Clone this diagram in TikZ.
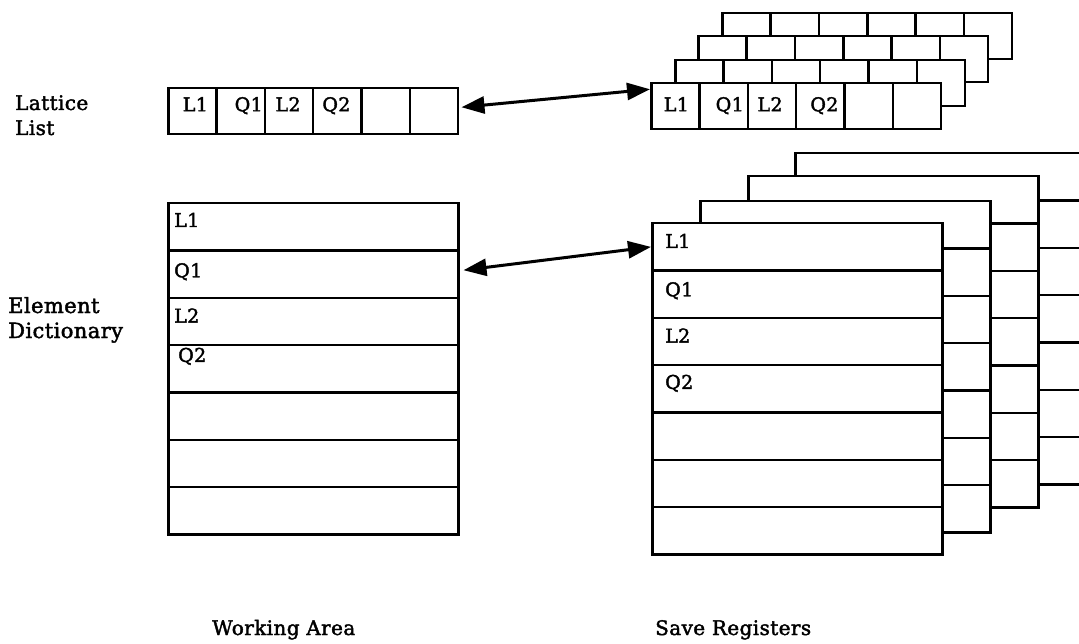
\documentclass[tikz,border=0pt]{standalone}
\usepackage{fontspec}
\setmainfont{DejaVu Serif}
\newfontfamily\boxserif[FakeBold=2,LetterSpace=2]{DejaVu Serif}
\usetikzlibrary{arrows.meta,calc}

\tikzset{
  cellbox/.style={draw, line width=2.5pt, fill=white, inner sep=0pt,
    minimum width=48.33pt, minimum height=46pt, anchor=north west},
  rowbox/.style={draw, line width=2.5pt, fill=white, inner sep=0pt,
    minimum width=290pt, minimum height=47.3pt, anchor=north west},
  celltext/.style={font=\boxserif\fontsize{19}{19}\selectfont, anchor=base, inner sep=0pt},
  rowtext/.style={font=\boxserif\fontsize{19}{19}\selectfont, anchor=base west, inner sep=0pt},
  sidelabel/.style={font=\boxserif\fontsize{20}{20}\selectfont, anchor=base west, inner sep=0pt},
  biglabel/.style={font=\boxserif\fontsize{21}{21}\selectfont, anchor=base west, inner sep=0pt},
  link/.style={line width=3pt,
    {Triangle[length=23pt,width=17pt]}-{Triangle[length=23pt,width=17pt]}},
}

% one lattice list: six cells, #1 name, (#2,#3) top left corner
\newcommand\latticerow[3]{%
  \foreach \i in {1,...,6}{
    \node[cellbox] (#1-\i) at ({#2+(\i-1)*48.33},#3) {};
  }}
% one element dictionary: seven rows, #1 name, (#2,#3) top left corner
\newcommand\dictcolumn[3]{%
  \foreach \i in {1,...,7}{
    \node[rowbox] (#1-\i) at (#2,{#3+(\i-1)*47.3}) {};
  }}

\begin{document}
\begin{tikzpicture}[x=1pt,y=-1pt]
\useasboundingbox (0,0) rectangle (1079,644);
\clip (0,0) rectangle (1079,644);

% side labels
\node[sidelabel] (lat1) at (15,110) {Lattice};
\node[sidelabel] (lat2) at (15,135) {List};
\node[biglabel] (ele1) at (8,313) {Element};
\node[biglabel] (ele2) at (8,338) {Dictionary};

% working area
\latticerow{wl}{167}{87}
\node[celltext] (wlt1) at ([xshift=3pt]wl-1.center) {L1};
\node[celltext] (wlt2) at ([xshift=8pt]wl-2.center) {Q1};
\node[celltext] (wlt3) at ([xshift=-1pt]wl-3.center) {L2};
\node[celltext] (wlt4) at ([xshift=-1pt]wl-4.center) {Q2};

\dictcolumn{wd}{167}{202}
\node[rowtext] (wdt1) at ($(wd-1.north west)+(7,25)$) {L1};
\node[rowtext] (wdt2) at ($(wd-2.north west)+(7,28)$) {Q1};
\node[rowtext] (wdt3) at ($(wd-3.north west)+(7,26)$) {L2};
\node[rowtext] (wdt4) at ($(wd-4.north west)+(11,18)$) {Q2};

% save registers: stacked lattice lists, back to front
\latticerow{slc}{721}{12}
\latticerow{slb}{697}{35}
\latticerow{sla}{674}{59}
\latticerow{sl}{650}{82}
\node[celltext] (slt1) at ([xshift=1pt,yshift=-5pt]sl-1.center) {L1};
\node[celltext] (slt2) at ([xshift=6pt,yshift=-5pt]sl-2.center) {Q1};
\node[celltext] (slt3) at ([xshift=-2pt,yshift=-5pt]sl-3.center) {L2};
\node[celltext] (slt4) at ([xshift=4pt,yshift=-5pt]sl-4.center) {Q2};

% save registers: stacked dictionaries, back to front
\dictcolumn{sdc}{794}{152}
\dictcolumn{sdb}{747}{175}
\dictcolumn{sda}{699}{200}
\dictcolumn{sd}{651}{222}
\node[rowtext] (sdt1) at ($(sd-1.north west)+(14,26)$) {L1};
\node[rowtext] (sdt2) at ($(sd-2.north west)+(14,27)$) {Q1};
\node[rowtext] (sdt3) at ($(sd-3.north west)+(14,26)$) {L2};
\node[rowtext] (sdt4) at ($(sd-4.north west)+(14,25)$) {Q2};

% transfers between working area and save registers
\draw[link] ([xshift=2pt,yshift=4pt]wl-6.east) -- ([yshift=17pt]sl-1.west);
\draw[link] ([xshift=4pt,yshift=4pt]wd-2.east) -- (sd-1.west);

% captions
\node[sidelabel] (cap1) at (212,635) {Working Area};
\node[sidelabel] (cap2) at (655,635) {Save Registers};
\end{tikzpicture}
\end{document}
